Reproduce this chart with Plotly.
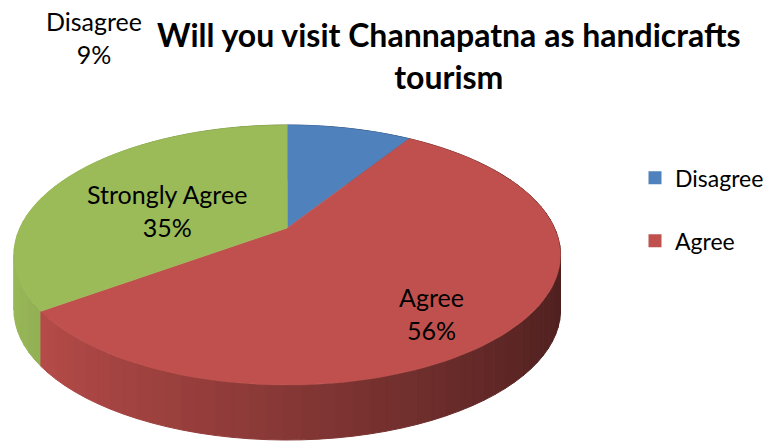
import numpy as np
import plotly.graph_objects as go

# Survey responses
labels = ["Disagree", "Agree", "Strongly Agree"]
values = [9, 56, 35]
colors = ["#4F81BD", "#C0504D", "#9BBB59"]
legend_labels = ["Disagree", "Agree"]

title_text = "Will you visit Channapatna as handicrafts<br>tourism"

W, H = 769, 443
FONT = "Lato"

# Perspective disc geometry (pixel units, y grows downward)
CX, CY = 288.0, 228.0     # where the slices meet
A, B = 268.0, 124.4       # horizontal / depth scale of the disc
K = 0.2077                # perspective strength
DEPTH = 55.0              # thickness of the pie


def project(theta, r=1.0, drop=0.0):
    X = r * np.sin(theta)
    Z = r * np.cos(theta)
    w = 1.0 + K * Z
    return CX + A * X / w, CY - B * Z / w + drop


def hex_rgb(h):
    h = h.lstrip("#")
    return tuple(int(h[i:i + 2], 16) for i in (0, 2, 4))


def shade(hexcol, theta):
    # light comes from the front-left
    f = 0.70 + 0.30 * (-np.sin(theta))
    r, g, b = hex_rgb(hexcol)
    return f"rgb({int(min(255, r * f))},{int(min(255, g * f))},{int(min(255, b * f))})"


total = float(sum(values))
bounds = np.concatenate([[0.0], np.cumsum(values) / total * 2 * np.pi])

fig = go.Figure()

# Side walls: thin bands, drawn back to front
bands = []
step = np.radians(3.0)
for i, col in enumerate(colors):
    t0, t1 = bounds[i], bounds[i + 1]
    n = max(1, int(np.ceil((t1 - t0) / step)))
    edges = np.linspace(t0, t1, n + 1)
    for a0, a1 in zip(edges[:-1], edges[1:]):
        bands.append((np.cos((a0 + a1) / 2), a0, a1, col))
bands.sort(key=lambda b: -b[0])

for _, a0, a1, col in bands:
    tt = np.linspace(a0, a1, 4)
    xt, yt = project(tt)
    xb, yb = project(tt[::-1], drop=DEPTH)
    c = shade(col, (a0 + a1) / 2)
    fig.add_trace(go.Scatter(
        x=np.concatenate([xt, xb, xt[:1]]), y=np.concatenate([yt, yb, yt[:1]]),
        mode="lines", fill="toself", fillcolor=c,
        line=dict(color=c, width=1), hoverinfo="skip", showlegend=False))

# Top faces of the slices
for i, (lab, col) in enumerate(zip(labels, colors)):
    tt = np.linspace(bounds[i], bounds[i + 1], 120)
    xr, yr = project(tt)
    fig.add_trace(go.Scatter(
        x=np.concatenate([[CX], xr, [CX]]), y=np.concatenate([[CY], yr, [CY]]),
        mode="lines", fill="toself", fillcolor=col,
        line=dict(color=col, width=0.5), name=lab,
        hoverinfo="name", showlegend=False))

# Legend entries
for i, lab in enumerate(legend_labels):
    col = colors[labels.index(lab)]
    fig.add_trace(go.Scatter(
        x=[None], y=[None], mode="markers", name=lab, legendgroup=lab,
        marker=dict(symbol="square", size=13, color=col)))

# Data labels
label_pos = {
    "Disagree": (94, 37),
    "Agree": (433, 313),
    "Strongly Agree": (167, 210),
}
for lab, val in zip(labels, values):
    x, y = label_pos[lab]
    fig.add_annotation(x=x, y=y, xref="x", yref="y", showarrow=False,
                       text=f"{lab}<br>{val}%", align="center",
                       font=dict(family=FONT, size=25, color="black"))

# Title
fig.add_annotation(x=450, y=55, xref="x", yref="y", showarrow=False,
                   text=f"<b>{title_text}</b>", align="center",
                   font=dict(family=FONT, size=32, color="black"))

fig.update_layout(
    width=W, height=H,
    margin=dict(l=0, r=0, t=0, b=0),
    paper_bgcolor="white", plot_bgcolor="white",
    xaxis=dict(range=[0, W], visible=False, fixedrange=True),
    yaxis=dict(range=[H, 0], visible=False, fixedrange=True),
    showlegend=True,
    legend=dict(x=0.828, y=0.647, xanchor="left", yanchor="top",
                font=dict(family=FONT, size=23, color="black"),
                tracegroupgap=30, bgcolor="rgba(0,0,0,0)"),
)

fig.write_html("out.html")
